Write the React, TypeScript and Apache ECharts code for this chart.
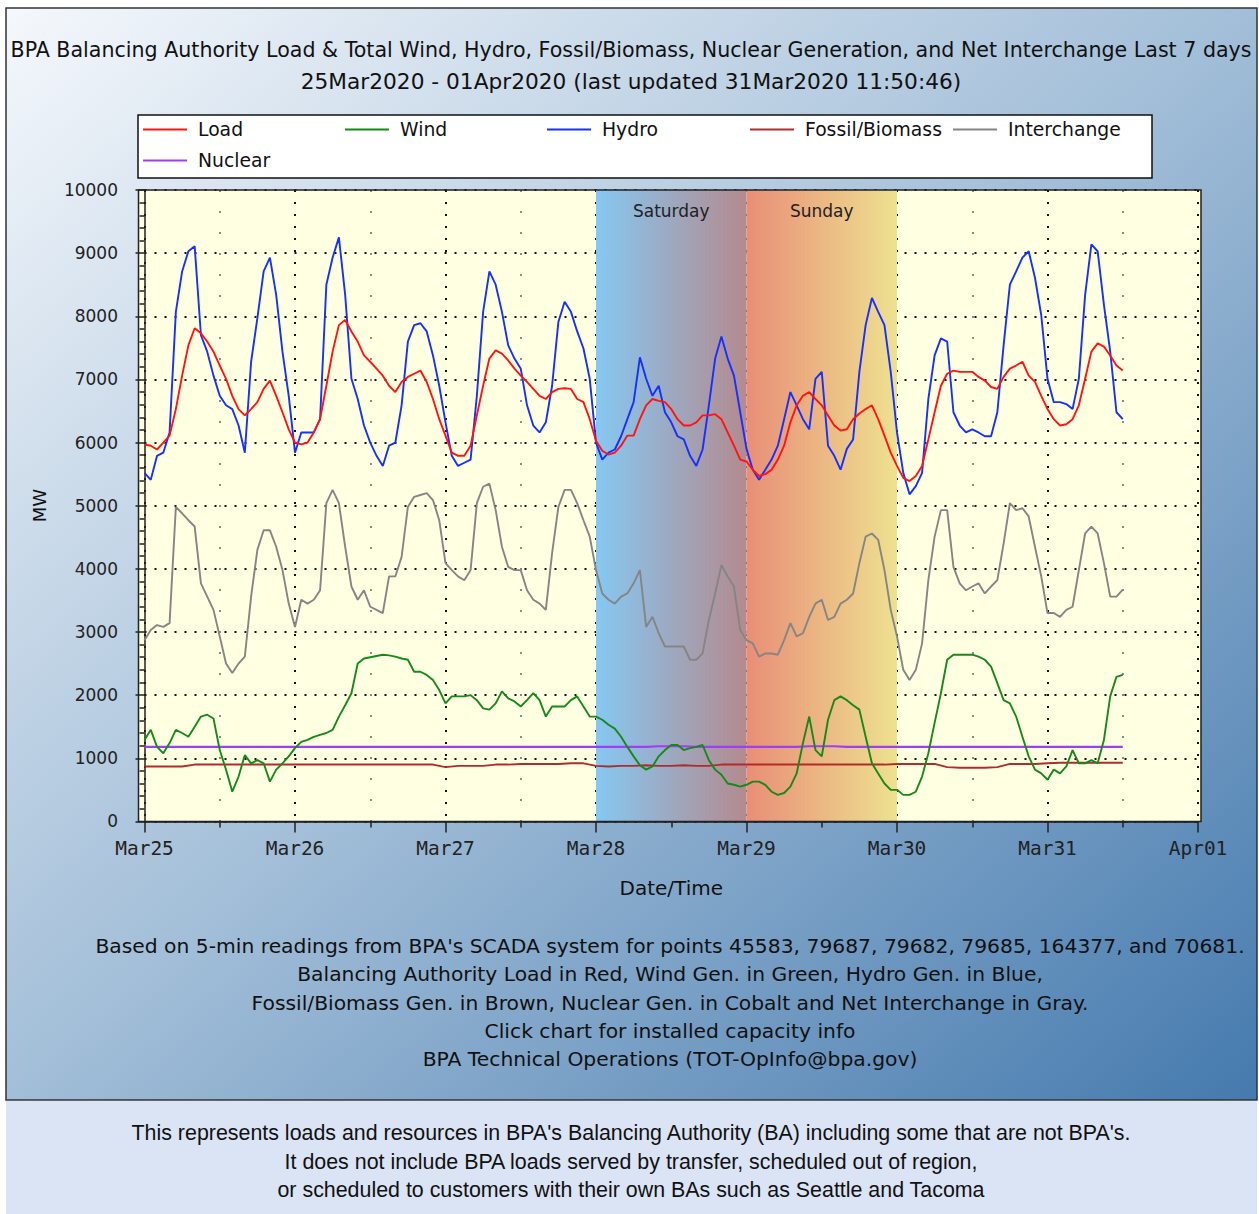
import React, { useEffect, useRef } from "react";
import * as echarts from "echarts";

// Samples start 25 Mar 2020 00:00, one value per hour (index = hour)
const STEP_HOURS = 1;
// Flat series read every 2 hours
const FLAT_STEP_HOURS = 2;

const DAY_LABELS = ["Mar25", "Mar26", "Mar27", "Mar28", "Mar29", "Mar30", "Mar31", "Apr01"];

const LOAD = [
  5970, 5950, 5890, 6000, 6110, 6530, 7060, 7540, 7810, 7730, 7600, 7440,
  7220, 7010, 6740, 6530, 6430, 6530, 6640, 6850, 6980, 6740, 6480, 6210,
  6000, 5970, 6000, 6160, 6370, 6900, 7440, 7860, 7940, 7760, 7600, 7380,
  7280, 7170, 7060, 6900, 6800, 6960, 7040, 7090, 7140, 6960, 6690, 6370,
  6110, 5840, 5790, 5790, 5950, 6430, 6900, 7330, 7460, 7410, 7300, 7170,
  7060, 6960, 6850, 6740, 6690, 6800, 6850, 6860, 6850, 6690, 6640, 6370,
  6030, 5870, 5810, 5840, 5950, 6110, 6110, 6370, 6590, 6690, 6660, 6640,
  6530, 6370, 6270, 6270, 6320, 6430, 6430, 6450, 6370, 6160, 5950, 5730,
  5700, 5570, 5470, 5500, 5570, 5730, 5950, 6320, 6590, 6740, 6800, 6690,
  6590, 6430, 6270, 6190, 6210, 6370, 6460, 6530, 6590, 6370, 6110, 5840,
  5630, 5440, 5390, 5470, 5630, 6050, 6480, 6900, 7090, 7140, 7120, 7120,
  7120, 7040, 6980, 6880, 6850, 7040, 7170, 7220, 7280, 7060, 6960, 6740,
  6530, 6370, 6270, 6290, 6370, 6590, 7010, 7440, 7570, 7520, 7380, 7220,
  7140,
];

const HYDRO = [
  5520, 5410, 5790, 5840, 6160, 8070, 8710, 9030, 9110, 7700, 7440, 7060,
  6740, 6590, 6530, 6270, 5840, 7280, 7970, 8710, 8930, 8340, 7440, 6740,
  5840, 6160, 6160, 6160, 6370, 8500, 8930, 9250, 8340, 7010, 6690, 6270,
  6000, 5790, 5630, 5950, 6000, 6590, 7600, 7860, 7890, 7760, 7380, 6900,
  6320, 5790, 5630, 5680, 5730, 6740, 8070, 8710, 8500, 8070, 7540, 7330,
  7170, 6590, 6270, 6160, 6320, 6900, 7910, 8230, 8070, 7760, 7490, 7010,
  6000, 5730, 5840, 5890, 6100, 6370, 6640, 7350, 7010, 6740, 6900, 6480,
  6320, 6100, 6050, 5790, 5630, 5890, 6590, 7330, 7680, 7330, 7060, 6480,
  5900, 5570, 5410, 5570, 5730, 5950, 6370, 6800, 6590, 6370, 6210, 7010,
  7120, 5950, 5790, 5570, 5900, 6050, 7120, 7860, 8290, 8070, 7860, 7120,
  6160, 5520, 5180, 5310, 5520, 6690, 7380, 7650, 7600, 6480, 6270, 6160,
  6210, 6160, 6100, 6100, 6480, 7540, 8500, 8710, 8930, 9030, 8610, 8020,
  7010, 6640, 6640, 6610, 6530, 7010, 8340, 9140, 9030, 8180, 7440, 6480,
  6370,
];

const WIND = [
  1290, 1450, 1180, 1080, 1240, 1450, 1400, 1340, 1500, 1660, 1690, 1630,
  1130, 820, 470, 710, 1050, 920, 970, 920, 630, 820, 920, 1030,
  1160, 1260, 1290, 1340, 1370, 1400, 1450, 1660, 1840, 2030, 2500, 2580,
  2600, 2620, 2640, 2630, 2610, 2580, 2560, 2370, 2370, 2320, 2240, 2080,
  1870, 1980, 1980, 1980, 2000, 1920, 1790, 1770, 1870, 2060, 1950, 1900,
  1820, 1920, 2030, 1920, 1660, 1820, 1820, 1820, 1920, 1980, 1820, 1660,
  1660, 1610, 1530, 1470, 1340, 1180, 1030, 890, 820, 870, 1030, 1130,
  1210, 1210, 1130, 1160, 1180, 1210, 970, 820, 740, 600, 580, 550,
  580, 630, 630, 580, 470, 420, 450, 550, 760, 1240, 1660, 1130,
  1030, 1610, 1920, 1980, 1920, 1840, 1770, 1340, 920, 760, 600, 500,
  500, 420, 420, 470, 710, 1080, 1560, 2030, 2560, 2640, 2640, 2640,
  2640, 2610, 2560, 2450, 2190, 1920, 1870, 1660, 1340, 1030, 820, 760,
  660, 820, 760, 870, 1130, 920, 920, 970, 920, 1290, 1980, 2290,
  2320,
];

const INTERCHANGE = [
  2870, 3030, 3110, 3080, 3140, 4980, 4880, 4770, 4670, 3770, 3560, 3350,
  2930, 2500, 2350, 2500, 2610, 3560, 4300, 4610, 4610, 4350, 3980, 3450,
  3080, 3510, 3450, 3510, 3660, 5040, 5250, 5040, 4350, 3720, 3510, 3660,
  3400, 3350, 3300, 3880, 3880, 4190, 4980, 5140, 5170, 5200, 5090, 4770,
  4090, 3980, 3880, 3820, 3980, 5040, 5300, 5350, 4930, 4350, 4030, 3980,
  3980, 3660, 3510, 3450, 3350, 4250, 4980, 5250, 5250, 5040, 4770, 4510,
  3980, 3610, 3510, 3450, 3560, 3610, 3770, 3980, 3080, 3240, 2980, 2770,
  2770, 2770, 2770, 2560, 2560, 2660, 3190, 3610, 4060, 3880, 3720, 3030,
  2870, 2820, 2610, 2660, 2660, 2640, 2870, 3140, 2930, 2980, 3240, 3450,
  3510, 3190, 3240, 3450, 3510, 3610, 4090, 4510, 4560, 4460, 3980, 3350,
  2930, 2400, 2240, 2400, 2820, 3820, 4510, 4930, 4930, 4030, 3770, 3660,
  3720, 3770, 3610, 3720, 3820, 4400, 5040, 4930, 4960, 4830, 4350, 3880,
  3300, 3300, 3240, 3350, 3400, 3980, 4560, 4670, 4560, 4090, 3560, 3560,
  3670,
];

const FOSSIL = [
  870, 870, 870, 870, 900, 900, 900, 900, 900, 900, 900, 900,
  900, 900, 900, 900, 900, 900, 900, 900, 900, 900, 900, 900,
  860, 880, 880, 880, 900, 900, 910, 910, 910, 910, 920, 920,
  880, 870, 880, 880, 890, 880, 880, 890, 880, 880, 900, 900,
  900, 900, 900, 900, 900, 900, 900, 900, 900, 900, 900, 900,
  910, 910, 910, 910, 860, 850, 850, 850, 860, 910, 910, 910,
  920, 930, 930, 930, 930, 930, 930,
];

const NUCLEAR = [
  1180, 1180, 1180, 1180, 1180, 1180, 1180, 1180, 1180, 1180, 1180, 1180,
  1180, 1180, 1180, 1180, 1180, 1180, 1180, 1180, 1180, 1180, 1180, 1180,
  1180, 1180, 1180, 1180, 1180, 1180, 1180, 1180, 1180, 1180, 1180, 1180,
  1180, 1180, 1180, 1180, 1180, 1190, 1190, 1190, 1180, 1180, 1180, 1180,
  1180, 1180, 1180, 1180, 1180, 1190, 1190, 1190, 1180, 1180, 1180, 1180,
  1180, 1180, 1180, 1180, 1180, 1180, 1180, 1180, 1180, 1180, 1180, 1180,
  1180, 1180, 1180, 1180, 1180, 1180, 1180,
];

const WEEKEND = [
  { name: "Saturday", start: 72, end: 96 },
  { name: "Sunday", start: 96, end: 120 },
];

const TITLE_1 =
  "BPA Balancing Authority Load & Total Wind, Hydro, Fossil/Biomass, Nuclear Generation, and Net Interchange Last 7 days";
const TITLE_2 = "25Mar2020 - 01Apr2020 (last updated 31Mar2020 11:50:46)";
const NOTES = [
  "Based on 5-min readings from BPA's SCADA system for points 45583, 79687, 79682, 79685, 164377, and 70681.",
  "Balancing Authority Load in Red, Wind Gen. in Green, Hydro Gen. in Blue,",
  "Fossil/Biomass Gen. in Brown, Nuclear Gen. in Cobalt and Net Interchange in Gray.",
  "Click chart for installed capacity info",
  "BPA Technical Operations (TOT-OpInfo@bpa.gov)",
];
const DISCLAIMER = [
  "This represents loads and resources in BPA's Balancing Authority (BA) including some that are not BPA's.",
  "It does not include BPA loads served by transfer, scheduled out of region,",
  "or scheduled to customers with their own BAs such as Seattle and Tacoma",
];

const SANS = "DejaVu Sans";

export default function App() {
  const ref = useRef<HTMLDivElement>(null);

  useEffect(() => {
    document.body.style.margin = "0";
    const chart = echarts.init(ref.current as HTMLDivElement, null, { renderer: "svg" });

    const zip = (vals: number[], step: number) => vals.map((v, i) => [i * step, v]);
    const line = (name: string, color: string, vals: number[], step: number, width = 1.9) => ({
      name,
      type: "line",
      data: zip(vals, step),
      symbol: "none",
      showSymbol: false,
      silent: true,
      lineStyle: { color, width },
      itemStyle: { color },
    });

    const legendItem = (name: string, left: number, top: number) => ({
      data: [name],
      left,
      top,
      z: 10,
      padding: 0,
      itemWidth: 44,
      itemHeight: 2,
      icon: "rect",
      selectedMode: false,
      textStyle: { fontFamily: SANS, fontSize: 18.8, color: "#111", padding: [0, 0, 0, 6] },
    });

    const text = (t: string, x: number, y: number, font: string, color = "#111", z = 10) => ({
      type: "text",
      x,
      y,
      z,
      silent: true,
      style: {
        text: t,
        font,
        fill: color,
        textAlign: "center",
        textVerticalAlign: "middle",
        align: "center",
        verticalAlign: "middle",
      },
    });

    const graphics: any[] = [
      {
        type: "rect",
        z: -30,
        silent: true,
        shape: { x: 6, y: 8, width: 1251, height: 1092 },
        style: {
          fill: new echarts.graphic.LinearGradient(0, 0, 1, 1, [
            { offset: 0, color: "#f5f8fc" },
            { offset: 0.5, color: "#a2bed8" },
            { offset: 1, color: "#457aae" },
          ]),
          stroke: "#333",
          lineWidth: 1.5,
        },
      },
      {
        type: "rect",
        z: -30,
        silent: true,
        shape: { x: 6, y: 1101, width: 1251, height: 113 },
        style: { fill: "#dae4f4" },
      },
      {
        type: "rect",
        z: -20,
        silent: true,
        shape: { x: 138.5, y: 190, width: 1062.5, height: 631.5 },
        style: { fill: "#ffffe2" },
      },
      {
        type: "rect",
        z: 50,
        silent: true,
        shape: { x: 138.5, y: 190, width: 1062.5, height: 631.5 },
        style: { fill: "none", stroke: "#222", lineWidth: 1.5 },
      },
      {
        type: "rect",
        z: 1,
        silent: true,
        shape: { x: 138, y: 115, width: 1014, height: 63 },
        style: { fill: "#ffffff", stroke: "#111", lineWidth: 1.5 },
      },
      text(TITLE_1, 631, 50, `20.6px '${SANS}'`),
      text(TITLE_2, 631, 81, `21.7px '${SANS}'`),
      ...NOTES.map((t, i) => text(t, 670, 946 + i * 28.3, `20.3px '${SANS}'`)),
      ...DISCLAIMER.map((t, i) =>
        text(t, 631, 1133 + i * 28.7, `21.4px 'Liberation Sans Narrow', 'Liberation Sans'`)
      ),
    ];

    const satGrad = new echarts.graphic.LinearGradient(0, 0, 1, 0, [
      { offset: 0, color: "#86c8f2" },
      { offset: 1, color: "#b48a8f" },
    ]);
    const sunGrad = new echarts.graphic.LinearGradient(0, 0, 1, 0, [
      { offset: 0, color: "#e98e77" },
      { offset: 1, color: "#eee190" },
    ]);
    const bandColors = [satGrad, sunGrad];

    chart.setOption({
      animation: false,
      graphic: { elements: graphics },
      legend: [
        legendItem("Load", 143, 120),
        legendItem("Wind", 345, 120),
        legendItem("Hydro", 547, 120),
        legendItem("Fossil/Biomass", 750, 120),
        legendItem("Interchange", 953, 120),
        legendItem("Nuclear", 143, 151),
      ],
      grid: { left: 144.5, right: 61, top: 190, bottom: 392.6, containLabel: false },
      xAxis: {
        type: "value",
        min: 0,
        max: 168,
        interval: 24,
        name: "Date/Time",
        nameLocation: "middle",
        nameGap: 57,
        nameTextStyle: { fontFamily: SANS, fontSize: 20, color: "#111" },
        axisLine: { show: true, lineStyle: { color: "#222", width: 1.5 } },
        axisTick: { show: true, length: 11, lineStyle: { color: "#222", width: 1.5 } },
        minorTick: { show: true, splitNumber: 2, length: 6, lineStyle: { color: "#222", width: 1.5 } },
        axisLabel: {
          margin: 17,
          fontFamily: "DejaVu Sans Mono",
          fontSize: 19.5,
          color: "#222",
          showMinLabel: true,
          showMaxLabel: true,
          formatter: (v: number) => DAY_LABELS[Math.round(v / 24)] ?? "",
        },
        splitLine: { show: true, lineStyle: { color: "#111", width: 2, type: [2, 10] } },
        minorSplitLine: { show: true, lineStyle: { color: "#8a8a8a", width: 2, type: [2, 19] } },
      },
      yAxis: {
        type: "value",
        min: 0,
        max: 10000,
        interval: 1000,
        offset: 7.5,
        name: "MW",
        nameLocation: "middle",
        nameGap: 89,
        nameTextStyle: { fontFamily: SANS, fontSize: 18, color: "#111" },
        axisLine: { show: true, lineStyle: { color: "#222", width: 1.5 } },
        axisTick: { show: true, length: 9, lineStyle: { color: "#222", width: 1.5 } },
        minorTick: { show: true, splitNumber: 5, length: 5, lineStyle: { color: "#222", width: 1.5 } },
        axisLabel: {
          margin: 19,
          fontFamily: SANS,
          fontSize: 17,
          color: "#222",
          formatter: (v: number) => String(v),
        },
        splitLine: { show: true, lineStyle: { color: "#111", width: 2, type: [2, 8] } },
      },
      series: [
        {
          name: "_weekend",
          type: "line",
          data: [],
          z: -1,
          silent: true,
          markArea: {
            silent: true,
            label: {
              show: true,
              position: "insideTop",
              distance: 12,
              fontFamily: SANS,
              fontSize: 17,
              color: "#222",
            },
            data: WEEKEND.map((w, i) => [
              { name: w.name, xAxis: w.start, yAxis: 10000, itemStyle: { color: bandColors[i], opacity: 1 } },
              { xAxis: w.end, yAxis: 0 },
            ]),
          },
        },
        line("Nuclear", "#9d3ff2", NUCLEAR, FLAT_STEP_HOURS, 2.2),
        line("Fossil/Biomass", "#b02c2c", FOSSIL, FLAT_STEP_HOURS),
        line("Wind", "#18881a", WIND, STEP_HOURS),
        line("Interchange", "#858585", INTERCHANGE, STEP_HOURS),
        line("Hydro", "#1530ff", HYDRO, STEP_HOURS),
        line("Load", "#ff1414", LOAD, STEP_HOURS),
      ],
    });

    return () => chart.dispose();
  }, []);

  return (
    <div
      ref={ref}
      style={{ position: "absolute", left: 0, top: 0, width: 1259, height: 1214 }}
    />
  );
}
